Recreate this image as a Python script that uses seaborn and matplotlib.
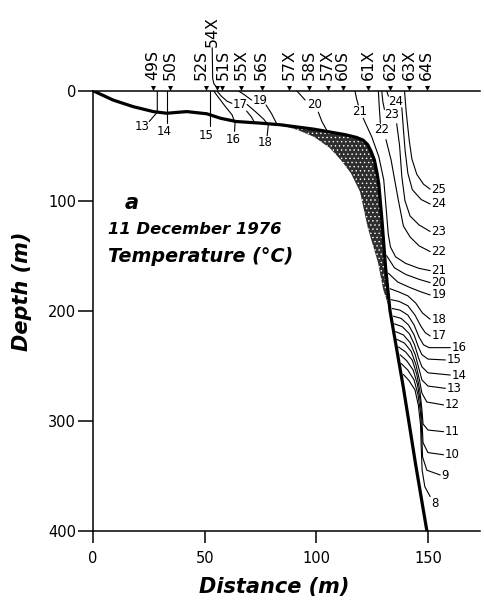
import numpy as np
import pandas as pd
import matplotlib
matplotlib.use("Agg")
import matplotlib.pyplot as plt
import seaborn as sns

# ---- section data: distance (m), depth (m) ----
bottom_x = [0, 9, 18, 27, 33, 42, 51, 57, 64, 75, 84, 99, 106, 113, 118, 121, 123,
            124.5, 126, 127.2, 128, 129.5, 131, 133, 136, 139, 142, 144.5, 147, 149.5]
bottom_d = [0, 8.5, 14.5, 19, 20.5, 19, 21, 25, 28, 29.5, 31, 35, 37.5, 40, 42.5, 45, 49,
            55, 63, 75, 85, 120, 160, 200, 235, 270, 308, 340, 370, 400]

# inner edge of the stippled zone below the slope
stipple_x = [84, 92, 99, 106, 111, 115.5, 119.6, 123.1, 127.6, 130, 133]
stipple_d = [31, 36, 42, 52, 63, 75, 92, 125, 156, 181, 200]

stations = ["49S", "50S", "52S", "54X", "51S", "55X", "56S", "57X", "58S", "57X",
            "60S", "61X", "62S", "63X", "64S"]
station_x = [26.7, 34.5, 50.6, 55.5, 57.6, 66.3, 75.5, 87.8, 96.7, 105.1,
             111.8, 123.2, 133.0, 141.5, 149.4]

# ---- isotherms (°C), each a list of (distance, depth) ----
t13 = [(28.8, 0), (28.8, 19.5), (25.2, 28)]
t14 = [(33.3, 0), (33.3, 29.5)]
t15 = [(52.4, 0), (52.4, 32.5)]
t16 = [(54, 0), (56.5, 7), (59.5, 15), (62.3, 22), (63.6, 29.5), (63.4, 37)]
t17_top = [(55.4, 0), (57.5, 5), (60, 9.5), (62.2, 11.5)]
t17_bed = [(68.8, 18.5), (71, 24), (72.5, 29.6)]
t18_top = [(69, 12.5), (73, 19.5), (76.5, 26), (78.5, 31.2), (78, 41)]
t19_top = [(65, 0), (68, 4), (71, 8.5)]
t19_bed = [(77.5, 13), (80, 21), (82.2, 29.8)]
t20_top = [(91.2, 0), (93, 4), (95, 8.5)]
t20_bed = [(100.9, 19.5), (102.5, 28), (104.6, 35.7)]
t21_top = [(117.3, 0), (118, 7), (118.8, 13)]
t21 = [(121, 25), (124.8, 41.8), (128, 60), (130.2, 81), (131.4, 110), (132.2, 130),
       (133.2, 142), (135.5, 151), (140, 157), (146, 161.5), (151, 163.6)]
t22_top = [(127.8, 0), (128.2, 15), (128.7, 29.6)]
t22 = [(131.2, 44.5), (133.5, 63), (135, 80), (136.7, 99), (139, 123), (142, 133),
       (146, 141), (151, 146.3)]
t23_top = [(129.3, 0), (129.8, 10), (130.5, 17)]
t23 = [(136, 30), (137.3, 50), (138.3, 78), (139.7, 100), (142, 114), (146, 122), (151, 128)]
t24_top = [(131.5, 0), (132.3, 5)]
t24 = [(138.3, 15.5), (139, 35), (139.8, 55), (141, 75), (143, 90), (147, 99), (151, 103)]
t25 = [(139.5, 0), (140.3, 20), (141.6, 45), (142.8, 62), (145, 76), (148, 85), (151, 89.5)]
t20 = [(131.5, 150), (135, 161), (140, 167), (146, 171.5), (151, 174.5)]
t19 = [(132.3, 166), (136.5, 174), (142, 179), (147, 183), (151, 185.7)]
t18 = [(133, 180), (137, 183), (141, 186.5), (144.5, 193), (147.5, 202), (151, 207.8)]
t17 = [(133.5, 190), (137, 191.5), (141, 195.5), (144.2, 204), (146.8, 214), (148.8, 220),
       (151, 223)]
t16_deep = [(134, 198), (137.5, 199.5), (141, 204), (143.8, 213), (146, 224), (148, 231),
            (150.5, 233.6), (160, 233.6)]
t15_deep = [(134.5, 205), (138, 207), (141.3, 213), (143.8, 222), (145.7, 233), (147.3, 240),
            (150, 244), (157.8, 244.8)]
t14_deep = [(135, 212), (138.5, 214.5), (141.7, 221), (144, 231), (145.8, 243), (147.3, 251),
            (150, 256.5), (160, 258.5)]
t13_deep = [(135.5, 219), (139, 222), (142, 229), (144.3, 240), (146, 253), (147.3, 263),
            (150, 268.5), (157.8, 270.6)]
t12 = [(136, 226), (139.5, 229.5), (142.5, 237), (144.6, 249), (146.2, 263), (147.3, 275),
       (149.5, 283), (157, 285.7)]
t11 = [(136.8, 233), (140, 237.5), (143, 245), (145, 258), (146.4, 273), (147.3, 290),
       (147.8, 303), (150, 308.5), (157, 310)]
t10 = [(137.5, 240), (140.5, 245.5), (143.4, 254), (145.3, 267), (146.6, 283), (147.3, 300),
       (147.8, 320), (150, 329), (157, 331)]
t9 = [(138, 248), (141, 254), (143.8, 263), (145.5, 276), (146.7, 293), (147.2, 312),
      (147.6, 333), (149.5, 345), (155.5, 349.4)]
t8 = [(139, 258), (141.5, 263.5), (144.2, 272), (145.7, 286), (146.7, 304), (147, 325),
      (147.4, 345), (148.6, 360), (151, 369)]

isotherms = [t13, t14, t15, t16, t17_top, t17_bed, t18_top, t19_top, t19_bed, t20_top,
             t20_bed, t21_top, t21, t22_top, t22, t23_top, t23, t24_top, t24, t25, t20,
             t19, t18, t17, t16_deep, t15_deep, t14_deep, t13_deep, t12, t11, t10, t9, t8]

# isotherm labels: text, distance, depth
shelf_labels = [("13", 22.2, 32.7), ("14", 32.0, 37.3), ("15", 50.6, 40.3), ("16", 62.8, 44.3),
                ("17", 65.8, 13.0), ("18", 77.0, 47.5), ("19", 74.8, 8.5), ("20", 99.4, 13.0),
                ("21", 119.6, 19.0), ("22", 129.3, 35.7), ("23", 133.7, 22.0),
                ("24", 135.5, 9.5)]
edge_labels = [("25", 151.5, 89.7), ("24", 151.5, 103.0), ("23", 151.5, 128.2),
               ("22", 151.5, 146.3), ("21", 151.5, 163.6), ("20", 151.5, 174.5),
               ("19", 151.5, 185.7), ("18", 151.7, 207.8), ("17", 151.7, 223.0),
               ("16", 160.6, 233.6), ("15", 158.4, 244.8), ("14", 160.6, 258.5),
               ("13", 158.4, 270.6), ("12", 157.6, 285.7), ("11", 157.6, 310.0),
               ("10", 157.6, 331.0), ("9", 156.1, 349.4), ("8", 151.7, 375.0)]

x_ticks = [0, 50, 100, 150]
y_ticks = [0, 100, 200, 300, 400]

# ---- figure ----
sns.set_style("ticks")
plt.rcParams["font.family"] = ["DejaVu Sans"]
plt.rcParams["hatch.linewidth"] = 0.5
for key in ["text.color", "axes.labelcolor", "xtick.color", "ytick.color",
            "axes.edgecolor"]:
    plt.rcParams[key] = "black"

fig = plt.figure(figsize=(4.84, 6.01), dpi=100)
ax = fig.add_axes([0.1921, 0.117, 0.7996, 0.7321])


def draw(seg, lw=0.8, zorder=3):
    df = pd.DataFrame(seg, columns=["distance", "depth"])
    sns.lineplot(data=df, x="distance", y="depth", sort=False, estimator=None,
                 color="black", lw=lw, ax=ax, legend=False, zorder=zorder)


# stippled zone between the slope and its inner edge
bx = np.array(bottom_x)
bd = np.array(bottom_d)
sel = (bd >= stipple_d[0]) & (bd <= stipple_d[-1])
poly_x = np.concatenate([bx[sel], stipple_x[::-1]])
poly_d = np.concatenate([bd[sel], stipple_d[::-1]])
ax.fill(poly_x, poly_d, facecolor="#2e2e2e", edgecolor="white", hatch="....",
        linewidth=0, zorder=2)

for seg in isotherms:
    draw(seg)

draw(list(zip(bottom_x, bottom_d)), lw=2.3, zorder=4)

lab_kw = dict(fontsize=8.5, color="black", zorder=6)
for txt, x, d in shelf_labels:
    ax.text(x, d, txt, ha="center", va="center", **lab_kw)
for txt, x, d in edge_labels:
    ax.text(x, d, txt, ha="left", va="center", **lab_kw)

# stations along the surface
ax.scatter(station_x, [-2.6] * len(station_x), marker="v", s=13, color="black",
           linewidths=0, clip_on=False, zorder=7)
label_shift = {2: -1.9, 3: -2.3, 4: 0.8}
for i, (name, x) in enumerate(zip(stations, station_x)):
    lx = x + label_shift.get(i, 0.0)
    base = -39.5 if name == "54X" else -9.8
    ax.text(lx, base, name, rotation=90, ha="center", va="bottom", fontsize=11.3,
            clip_on=False)
# leader from the raised 54X label down to its station
ax.plot([53.4, 53.6, 54.2, 55.5], [-39.0, -11.0, -6.0, -3.0], color="black", lw=0.8,
        clip_on=False, zorder=7)

# annotations
ax.text(14, 102, "a", fontsize=15, fontweight="bold", fontstyle="italic",
        ha="left", va="center")
ax.text(6.7, 126.6, "11 December 1976", fontsize=11.8, fontweight="bold",
        fontstyle="italic", ha="left", va="center")
ax.text(6.7, 151, "Temperature (\u00b0C)", fontsize=13.8, fontweight="bold",
        fontstyle="italic", ha="left", va="center")

ax.set_xlim(0, 173.3)
ax.set_ylim(400, 0)
ax.set_xticks(x_ticks)
ax.set_yticks(y_ticks)
ax.set_xticklabels([str(v) for v in x_ticks])
ax.set_yticklabels([str(v) for v in y_ticks])

for s in ["left", "top", "bottom"]:
    ax.spines[s].set_linewidth(1.1)
    ax.spines[s].set_color("black")
ax.spines["right"].set_visible(False)

ax.tick_params(axis="y", direction="out", length=10.5, width=1.1, pad=1.5,
               labelsize=10.5, colors="black")
ax.tick_params(axis="x", direction="out", length=8.4, width=1.1, pad=6,
               labelsize=10.5, colors="black")

ax.set_xlabel("Distance (m)", fontsize=15, fontweight="bold", fontstyle="italic")
ax.set_ylabel("Depth (m)", fontsize=15, fontweight="bold", fontstyle="italic")
ax.xaxis.label.set_va("center")
ax.yaxis.label.set_va("center")
ax.xaxis.set_label_coords(0.468, -0.128)
ax.yaxis.set_label_coords(-0.183, 0.545)

fig.savefig("out.png", dpi=100)
